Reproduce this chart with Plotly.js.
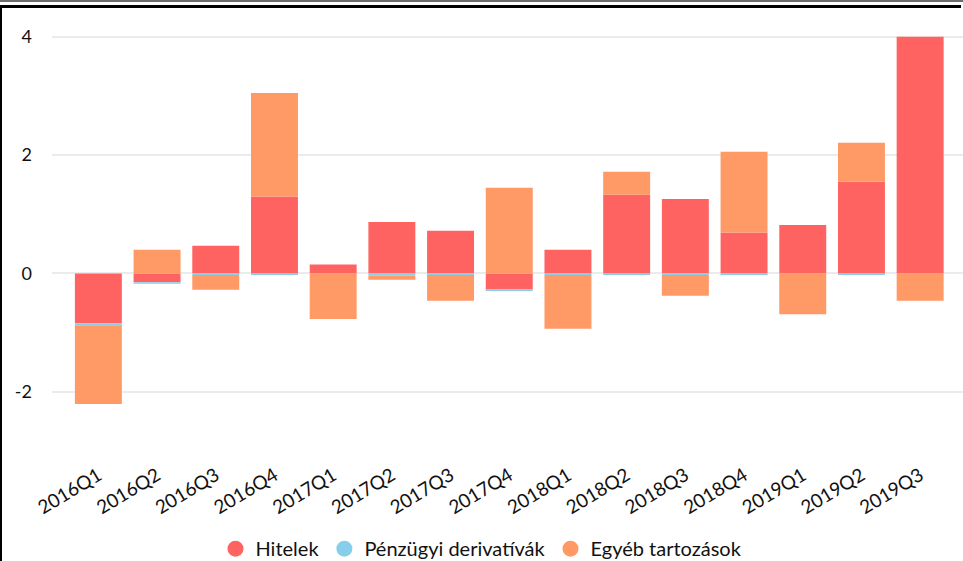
<!DOCTYPE html>
<html>
<head>
<meta charset="utf-8">
<script src="https://cdn.plot.ly/plotly-3.0.1.min.js"></script>
<style>
  html, body { margin: 0; padding: 0; background: #fff; }
  #wrap { position: relative; width: 963px; height: 561px; overflow: hidden; }
  #chart { position: absolute; left: 0; top: 0; width: 963px; height: 561px; }
  #topgray { position: absolute; left: 0; top: 0; width: 963px; height: 2px; background: #6e6e6e; pointer-events: none; }
  #frame { position: absolute; left: 0; top: 5px; width: 961px; height: 556px; border-top: 3px solid #000; border-left: 2px solid #000; box-sizing: border-box; pointer-events: none; }
</style>
</head>
<body>
<div id="wrap">
  <div id="chart"></div>
  <div id="topgray"></div>
  <div id="frame"></div>
</div>
<script>
const categories = ['2016Q1','2016Q2','2016Q3','2016Q4','2017Q1','2017Q2','2017Q3','2017Q4','2018Q1','2018Q2','2018Q3','2018Q4','2019Q1','2019Q2','2019Q3'];
const hitelek = [-0.84, -0.15, 0.47, 1.30, 0.15, 0.87, 0.72, -0.27, 0.40, 1.33, 1.26, 0.69, 0.82, 1.55, 4.00];
const derivativak = [-0.035, -0.025, -0.025, -0.025, 0, -0.035, -0.025, -0.025, -0.025, -0.025, -0.025, -0.025, 0, -0.025, 0];
const egyeb = [-1.33, 0.40, -0.25, 1.75, -0.77, -0.07, -0.435, 1.45, -0.91, 0.39, -0.35, 1.365, -0.69, 0.66, -0.46];
const seriesNames = ['Hitelek', 'Pénzügyi derivatívák', 'Egyéb tartozások'];
const yTickVals = [-2, 0, 2, 4];
const yTickText = ['-2', '0', '2', '4'];

const colors = ['#ff6361', '#87ceeb', '#ff9966'];
const FONT = 'Lato, "Open Sans", sans-serif';
const seriesValues = [hitelek, derivativak, egyeb];

const traces = [];
seriesValues.forEach((vals, i) => {
  traces.push({
    type: 'bar', x: categories, y: vals, name: seriesNames[i],
    marker: { color: colors[i], line: { width: 0 } },
    showlegend: false, hoverinfo: 'x+y+name'
  });
});
seriesNames.forEach((n, i) => {
  traces.push({
    type: 'scatter', mode: 'markers', x: [null], y: [null], name: n,
    marker: { color: colors[i], size: 20, symbol: 'circle' },
    showlegend: true, hoverinfo: 'skip'
  });
});

const layout = {
  width: 963, height: 561,
  margin: { l: 52, r: 0, t: 19, b: 113, pad: 0 },
  paper_bgcolor: '#fff', plot_bgcolor: '#fff',
  barmode: 'relative', bargap: 0.2,
  font: { family: FONT, size: 18, color: '#111' },
  xaxis: {
    type: 'category', range: [-0.79, 14.73],
    showgrid: false, zeroline: false, showline: false, ticks: '',
    tickangle: -31, ticklabelstandoff: 12,
    tickfont: { family: FONT, size: 19, color: '#111' }
  },
  yaxis: {
    range: [-2.95, 4.3], tickvals: yTickVals, ticktext: yTickText,
    showgrid: true, gridcolor: '#ebebeb', gridwidth: 2,
    zeroline: false, showline: false, ticks: '',
    ticklabelstandoff: 19,
    tickfont: { family: FONT, size: 18, color: '#111' }
  },
  showlegend: true,
  legend: {
    orientation: 'h', xref: 'container', yref: 'container',
    x: 0.5, xanchor: 'center', y: 0.022, yanchor: 'middle',
    font: { family: FONT, size: 20, color: '#111' },
    itemsizing: 'trace', bgcolor: 'rgba(0,0,0,0)', tracegroupgap: 0
  }
};

Plotly.newPlot('chart', traces, layout, { displayModeBar: false, staticPlot: true });
</script>
</body>
</html>
